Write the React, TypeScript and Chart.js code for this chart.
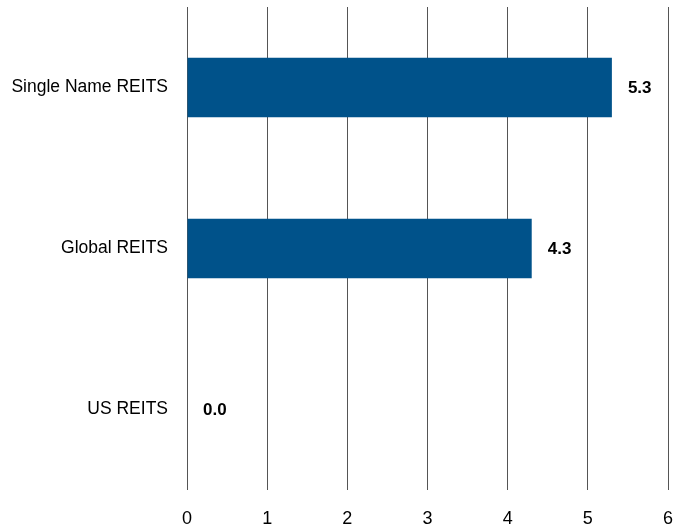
import React, { useEffect, useRef } from "react";
import { Chart, registerables } from "chart.js";

Chart.register(...registerables);

const categories = ["Single Name REITS", "Global REITS", "US REITS"];
const values = [5.3, 4.3, 0.0];
const xTicks = [0, 1, 2, 3, 4, 5, 6];

const FONT = "'Liberation Sans Narrow', 'Arial Narrow', 'Liberation Sans', sans-serif";

const labelPlugin = {
  id: "barLabels",
  afterDatasetsDraw(chart: any) {
    const ctx = chart.ctx;
    const meta = chart.getDatasetMeta(0);
    ctx.save();
    ctx.font = `bold 17px ${FONT}`;
    ctx.fillStyle = "#000";
    ctx.textAlign = "left";
    ctx.textBaseline = "middle";
    meta.data.forEach((bar: any, i: number) => {
      ctx.fillText(values[i].toFixed(1), bar.x + 16, bar.y + 1);
    });
    ctx.restore();
  },
};

export default function App() {
  const ref = useRef<HTMLCanvasElement | null>(null);
  useEffect(() => {
    document.body.style.margin = "0";
    const chart = new Chart(ref.current!, {
      type: "bar",
      data: {
        labels: categories,
        datasets: [
          {
            data: values,
            backgroundColor: "#00528A",
            barPercentage: 0.37,
            categoryPercentage: 1,
          },
        ],
      },
      options: {
        indexAxis: "y",
        animation: false,
        responsive: false,
        layout: { padding: { top: 7, right: 23, left: 0, bottom: 0 } },
        plugins: { legend: { display: false }, tooltip: { enabled: false } },
        scales: {
          x: {
            min: 0,
            max: 6,
            afterFit: (s: any) => {
              s.height = 38;
              s.paddingLeft = 0;
              s.paddingRight = 0;
            },
            afterBuildTicks: (s: any) => {
              s.ticks = xTicks.map((v) => ({ value: v }));
            },
            grid: { color: "#555", lineWidth: 1, drawTicks: false },
            border: { display: false },
            ticks: {
              color: "#000",
              padding: 18,
              font: { family: FONT, size: 18 },
            },
          },
          y: {
            afterFit: (s: any) => {
              s.width = 187;
              s.paddingTop = 0;
              s.paddingBottom = 0;
            },
            grid: { display: false },
            border: { display: false },
            ticks: {
              color: "#000",
              padding: 11,
              font: { family: FONT, size: 17.5 },
            },
          },
        },
      },
      plugins: [labelPlugin],
    });
    return () => chart.destroy();
  }, []);
  return <canvas ref={ref} width={691} height={528} style={{ display: "block" }} />;
}
